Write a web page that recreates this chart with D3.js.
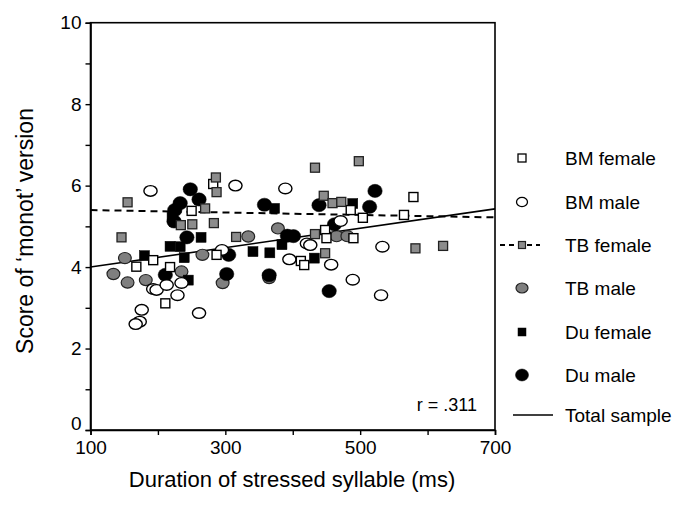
<!DOCTYPE html>
<html><head><meta charset="utf-8">
<script src="https://cdn.jsdelivr.net/npm/d3@7"></script>
<style>body{margin:0;background:#fff}svg{display:block}text{font-family:"Liberation Sans",Arial,sans-serif;fill:#000}</style>
</head><body>
<svg id="c" width="681" height="518"></svg>
<script>
// ---- data: [duration ms, score] ----
const bmFemale = [[282,6.04],[250,5.38],[287,4.30],[193,4.17],[168,4.01],[218,4.00],[211,3.11],[486,5.40],[504,5.21],[412,4.15],[417,4.05],[448,4.91],[450,4.71],[490,4.71],[579,5.72],[565,5.28]];
const bmMale = [[189,5.87],[315,6.00],[389,5.93],[295,4.42],[193,3.46],[198,3.44],[213,3.56],[235,3.61],[229,3.31],[176,2.95],[173,2.66],[167,2.60],[261,2.87],[471,5.13],[421,4.58],[426,4.54],[395,4.19],[457,4.06],[489,3.69],[533,4.50],[531,3.31]];
const tbFemale = [[286,6.20],[287,5.84],[155,5.59],[270,5.44],[234,5.03],[251,5.05],[283,5.08],[146,4.73],[316,4.74],[433,6.44],[498,6.60],[446,5.75],[459,5.57],[472,5.60],[433,4.81],[448,4.34],[582,4.46],[623,4.52]];
const tbMale = [[151,4.22],[134,3.83],[155,3.62],[182,3.68],[235,3.89],[266,4.30],[296,3.61],[334,4.75],[378,4.95],[465,4.76],[481,4.76],[365,3.73]];
const duFemale = [[221,5.22],[264,4.73],[218,4.51],[233,4.50],[180,4.28],[239,4.23],[245,3.68],[373,5.44],[489,5.56],[341,4.38],[366,4.35],[384,4.55],[432,4.22]];
const duMale = [[248,5.91],[261,5.66],[233,5.57],[225,5.40],[224,5.12],[243,4.73],[305,4.30],[211,3.81],[302,3.83],[358,5.53],[439,5.52],[462,5.05],[401,4.76],[392,4.77],[365,3.80],[454,3.41],[522,5.87],[514,5.48]];
// fit lines: [x, y] endpoints
const totalFit = [[100,4.00],[700,5.43]];
const tbFemaleFit = [[100,5.40],[700,5.22]];
const xTicks = [100,200,300,400,500,600,700];
const xLabels = [100,300,500,700];
const yTicks = [0,1,2,3,4,5,6,7,8,9,10];
const yLabels = [0,2,4,6,8,10];
const legendLabels = ["BM female","BM male","TB female","TB male","Du female","Du male","Total sample"];
const rLabel = "r = .311";

const svg = d3.select("#c");
const x = d3.scaleLinear().domain([100,700]).range([90.5,495]);
const y = d3.scaleLinear().domain([0,10]).range([430,22.7]);

const styles = {
  bmF:{shape:"sq", size:9, fill:"#fff", stroke:"#000", sw:1.4},
  bmM:{shape:"el", rx:6.6, ry:5.3, fill:"#fff", stroke:"#000", sw:1.4},
  tbF:{shape:"sq", size:9, fill:"#8c8c8c", stroke:"#222", sw:1.3},
  tbM:{shape:"el", rx:6.4, ry:5.6, fill:"#7f7f7f", stroke:"#222", sw:1.2},
  duF:{shape:"sq", size:10, fill:"#000", stroke:"#000", sw:0.5},
  duM:{shape:"el", rx:7.2, ry:6.6, fill:"#000", stroke:"#000", sw:0.5}
};

// frame
const g = svg.append("g");
g.append("rect").attr("x",x(100)).attr("y",y(10)).attr("width",x(700)-x(100)).attr("height",y(0)-y(10))
  .attr("fill","none").attr("stroke","#000").attr("stroke-width",1.6);

// axes
const xAxis = d3.axisBottom(x).tickValues(xTicks).tickSize(5).tickFormat(d => xLabels.includes(d) ? d : "");
const xa = g.append("g").attr("transform",`translate(0,${y(0)})`).call(xAxis);
const yAxis = d3.axisLeft(y).tickValues(yTicks).tickSize(5).tickFormat(d => yLabels.includes(d) ? d : "");
const ya = g.append("g").attr("transform",`translate(${x(100)},0)`).call(yAxis);
[xa,ya].forEach(a=>{
  a.select(".domain").attr("stroke","#000").attr("stroke-width",1.6);
  a.selectAll(".tick line").attr("stroke","#000").attr("stroke-width",1.4);
  a.selectAll(".tick text").style("font-family",'"Liberation Sans",Arial,sans-serif').style("font-size","19px").attr("fill","#000");
});
xa.selectAll(".tick text").attr("dy","0.95em").attr("y",6);
ya.selectAll(".tick text").attr("x",-9);
ya.selectAll(".tick").filter(d=>d===0).select("text").attr("dy","-0.05em");

// fit lines (under points)
const line = d3.line().x(d=>x(d[0])).y(d=>y(d[1]));
g.append("path").datum(totalFit).attr("d",line).attr("stroke","#000").attr("stroke-width",1.6).attr("fill","none");
g.append("path").datum(tbFemaleFit).attr("d",line).attr("stroke","#000").attr("stroke-width",2).attr("stroke-dasharray","7,5").attr("fill","none");

function drawMarks(data, st){
  const sel = g.append("g");
  if(st.shape==="sq"){
    sel.selectAll("rect").data(data).join("rect")
      .attr("x",d=>x(d[0])-st.size/2).attr("y",d=>y(d[1])-st.size/2)
      .attr("width",st.size).attr("height",st.size)
      .attr("fill",st.fill).attr("stroke",st.stroke).attr("stroke-width",st.sw);
  } else {
    sel.selectAll("ellipse").data(data).join("ellipse")
      .attr("cx",d=>x(d[0])).attr("cy",d=>y(d[1])).attr("rx",st.rx).attr("ry",st.ry)
      .attr("fill",st.fill).attr("stroke",st.stroke).attr("stroke-width",st.sw);
  }
}
drawMarks(tbMale, styles.tbM);
drawMarks(duMale, styles.duM);
drawMarks(duFemale, styles.duF);
drawMarks(bmMale, styles.bmM);
drawMarks(bmFemale, styles.bmF);
drawMarks(tbFemale, styles.tbF);

// r label
g.append("text").attr("x",477).attr("y",411).attr("text-anchor","end").style("font-size","18px").text(rLabel);

// axis titles
svg.append("text").attr("x",292).attr("y",487).attr("text-anchor","middle").style("font-size","22px").text("Duration of stressed syllable (ms)");
svg.append("text").attr("transform","translate(33,231) rotate(-90)").attr("text-anchor","middle").style("font-size","23px").text("Score of \u2018monot\u2019 version");

// legend
const legY = [158,202,245,288,332,375,415];
const lx = 522, tx = 565;
const lg = svg.append("g");
const legStyles = [
  {shape:"sq", size:8, fill:"#fff", stroke:"#000", sw:1.3},
  {shape:"el", rx:5.5, ry:4.6, fill:"#fff", stroke:"#000", sw:1.3},
  {shape:"sq", size:7, fill:"#8c8c8c", stroke:"#222", sw:1.2, dash:true},
  {shape:"el", rx:6, ry:5, fill:"#7f7f7f", stroke:"#222", sw:1.2},
  {shape:"sq", size:8, fill:"#000", stroke:"#000", sw:0.5},
  {shape:"el", rx:6.5, ry:6, fill:"#000", stroke:"#000", sw:0.5},
  {shape:"line"}
];
legendLabels.forEach((lab,i)=>{
  const st = legStyles[i], cy = legY[i];
  if(st.shape==="line"){
    lg.append("line").attr("x1",513).attr("x2",553).attr("y1",cy).attr("y2",cy).attr("stroke","#000").attr("stroke-width",1.4);
  } else {
    if(st.dash) lg.append("line").attr("x1",500).attr("x2",540).attr("y1",cy).attr("y2",cy).attr("stroke","#000").attr("stroke-width",2).attr("stroke-dasharray","5,4");
    if(st.shape==="sq") lg.append("rect").attr("x",lx-st.size/2).attr("y",cy-st.size/2).attr("width",st.size).attr("height",st.size).attr("fill",st.fill).attr("stroke",st.stroke).attr("stroke-width",st.sw);
    else lg.append("ellipse").attr("cx",lx).attr("cy",cy).attr("rx",st.rx).attr("ry",st.ry).attr("fill",st.fill).attr("stroke",st.stroke).attr("stroke-width",st.sw);
  }
  lg.append("text").attr("x",tx).attr("y",cy+7).style("font-size","19px").text(lab);
});
</script>
</body></html>
